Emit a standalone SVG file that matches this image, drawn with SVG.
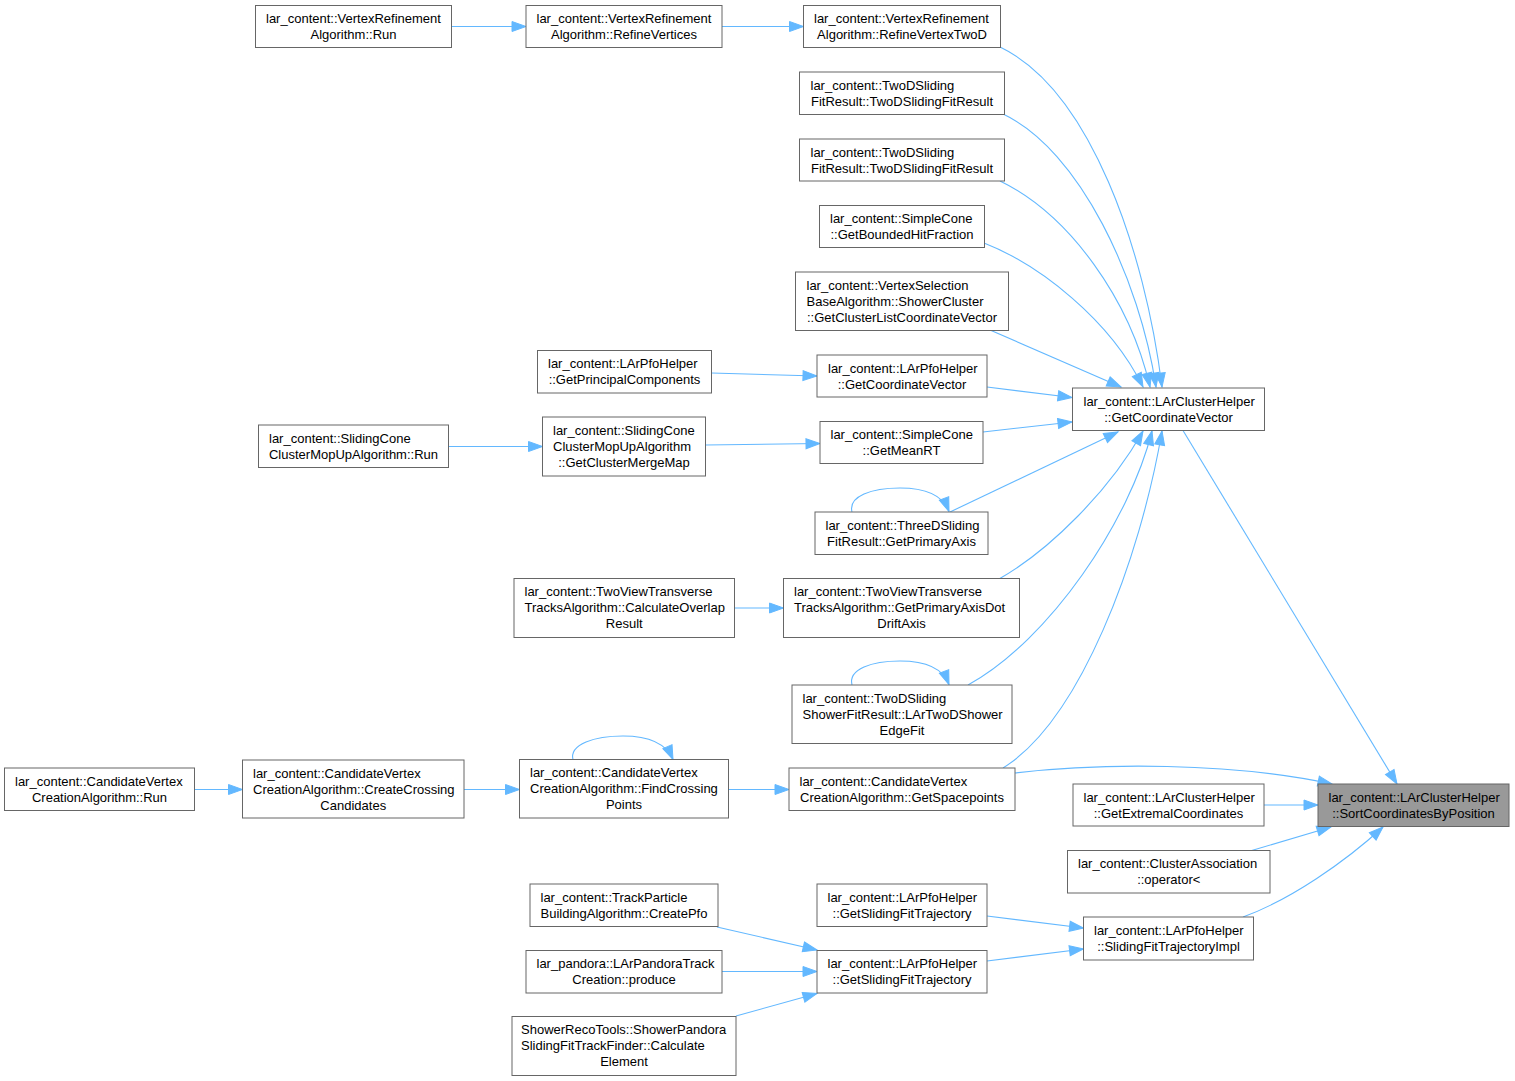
<svg xmlns="http://www.w3.org/2000/svg" width="1515" height="1081" viewBox="0 0 1515 1081">
<style>
.node rect{fill:#ffffff;stroke:#666666;stroke-width:1}
.node.hl rect{fill:#999999}
text{font-family:"Liberation Sans",Arial,sans-serif;font-size:13px;fill:#000000}
.s{text-anchor:start}
.m{text-anchor:middle}
.edges path{fill:none;stroke:#63b8ff;stroke-width:1.1;marker-end:url(#ah)}
</style>
<defs>
<marker id="ah" markerUnits="userSpaceOnUse" markerWidth="14" markerHeight="10" refX="14" refY="5" orient="auto" overflow="visible">
<path d="M0,0L14,5L0,10z" fill="#63b8ff" stroke="#63b8ff" stroke-width="1"/>
</marker>
</defs>
<rect width="1515" height="1081" fill="#ffffff"/>
<g id="edges" class="edges">
<path d="M451.5,26.5 L526,26.5"/>
<path d="M722,26.5 L803.5,26.5"/>
<path d="M1000,47 C1090,90 1145,250 1162,387"/>
<path d="M1003,114 C1080,150 1140,280 1156,387"/>
<path d="M1000,181 C1070,215 1130,300 1150,387"/>
<path d="M984,243 C1040,265 1110,320 1143,387"/>
<path d="M990,330 L1121,387"/>
<path d="M711.5,373 L817,376"/>
<path d="M987,387 L1072,397.5"/>
<path d="M983,432 L1072,422"/>
<path d="M448.5,446.5 L542.5,446.5"/>
<path d="M705.5,445 L820,443.5"/>
<path d="M852,512 C848,496 872,488 900,488 C922,488 942,493 949,511.5"/>
<path d="M950,512 L1118,432"/>
<path d="M734.5,608 L783.5,608"/>
<path d="M999,579 C1050,550 1110,490 1143,431"/>
<path d="M852,685 C848,669 872,661 900,661 C922,661 942,666 949,684.5"/>
<path d="M968,685 C1050,640 1130,520 1152,431"/>
<path d="M1003,768 C1080,720 1140,560 1162,431"/>
<path d="M194.5,789.5 L242.5,789.5"/>
<path d="M464,789.5 L519.5,789.5"/>
<path d="M573,760 C569,744 595,736 623,736 C645,736 665,741 673,759.5"/>
<path d="M728.5,789.5 L789,789.5"/>
<path d="M1015,773 C1100,763 1230,762 1332,784"/>
<path d="M1183,430.5 L1397,784"/>
<path d="M1264,805 L1318,805"/>
<path d="M1250,851 L1331,827"/>
<path d="M1243,917 C1290,900 1345,862 1383,827"/>
<path d="M987,916 L1083.5,928"/>
<path d="M987,961 L1083.5,949"/>
<path d="M717,927 L817,950"/>
<path d="M722,971.5 L817,971.5"/>
<path d="M736,1016 L817,993.5"/>
</g>
<g id="n1" class="node"><rect x="255.5" y="5.5" width="196" height="42"/><text class="s" x="266" y="22.5">lar_content::VertexRefinement</text><text class="m" x="353.5" y="38.5">Algorithm::Run</text></g>
<g id="n2" class="node"><rect x="526" y="5.5" width="196" height="42"/><text class="s" x="536.5" y="22.5">lar_content::VertexRefinement</text><text class="m" x="624" y="38.5">Algorithm::RefineVertices</text></g>
<g id="n3" class="node"><rect x="803.5" y="5.5" width="197" height="42"/><text class="s" x="814" y="22.5">lar_content::VertexRefinement</text><text class="m" x="902" y="38.5">Algorithm::RefineVertexTwoD</text></g>
<g id="n4" class="node"><rect x="799.5" y="72" width="205" height="42.5"/><text class="s" x="810.5" y="89.5">lar_content::TwoDSliding</text><text class="m" x="902" y="105.5">FitResult::TwoDSlidingFitResult</text></g>
<g id="n5" class="node"><rect x="799.5" y="139" width="205" height="42"/><text class="s" x="810.5" y="156.5">lar_content::TwoDSliding</text><text class="m" x="902" y="172.5">FitResult::TwoDSlidingFitResult</text></g>
<g id="n6" class="node"><rect x="819.5" y="205.5" width="165" height="42"/><text class="s" x="830" y="222.5">lar_content::SimpleCone</text><text class="m" x="902" y="238.5">::GetBoundedHitFraction</text></g>
<g id="n7" class="node"><rect x="795.5" y="272" width="213" height="58.5"/><text class="s" x="806.5" y="289.5">lar_content::VertexSelection</text><text class="s" x="806.5" y="305.5">BaseAlgorithm::ShowerCluster</text><text class="m" x="902" y="321.5">::GetClusterListCoordinateVector</text></g>
<g id="n8" class="node"><rect x="537.5" y="350.5" width="174" height="42.5"/><text class="s" x="548" y="368">lar_content::LArPfoHelper</text><text class="m" x="624.5" y="384">::GetPrincipalComponents</text></g>
<g id="n9" class="node"><rect x="817" y="355" width="170" height="42"/><text class="s" x="828" y="372.5">lar_content::LArPfoHelper</text><text class="m" x="902" y="388.5">::GetCoordinateVector</text></g>
<g id="n10" class="node"><rect x="1072.5" y="388" width="192" height="42.5"/><text class="s" x="1083.5" y="405.5">lar_content::LArClusterHelper</text><text class="m" x="1168.5" y="421.5">::GetCoordinateVector</text></g>
<g id="n11" class="node"><rect x="258.5" y="425" width="190" height="42.5"/><text class="s" x="269" y="442.5">lar_content::SlidingCone</text><text class="m" x="353.5" y="458.5">ClusterMopUpAlgorithm::Run</text></g>
<g id="n12" class="node"><rect x="542.5" y="417" width="163" height="59"/><text class="s" x="553" y="434.5">lar_content::SlidingCone</text><text class="s" x="553" y="450.5">ClusterMopUpAlgorithm</text><text class="m" x="624" y="466.5">::GetClusterMergeMap</text></g>
<g id="n13" class="node"><rect x="820" y="421.5" width="163" height="42"/><text class="s" x="830.5" y="439">lar_content::SimpleCone</text><text class="m" x="901.5" y="455">::GetMeanRT</text></g>
<g id="n14" class="node"><rect x="815" y="512" width="173" height="42.5"/><text class="s" x="825.5" y="529.5">lar_content::ThreeDSliding</text><text class="m" x="901.5" y="545.5">FitResult::GetPrimaryAxis</text></g>
<g id="n15" class="node"><rect x="514" y="578.5" width="220.5" height="59"/><text class="s" x="524.5" y="596">lar_content::TwoViewTransverse</text><text class="s" x="524.5" y="612">TracksAlgorithm::CalculateOverlap</text><text class="m" x="624.25" y="628">Result</text></g>
<g id="n16" class="node"><rect x="783.5" y="578.5" width="236" height="59"/><text class="s" x="794" y="596">lar_content::TwoViewTransverse</text><text class="s" x="794" y="612">TracksAlgorithm::GetPrimaryAxisDot</text><text class="m" x="901.5" y="628">DriftAxis</text></g>
<g id="n17" class="node"><rect x="792" y="685" width="220" height="58.5"/><text class="s" x="802.5" y="702.5">lar_content::TwoDSliding</text><text class="s" x="802.5" y="718.5">ShowerFitResult::LArTwoDShower</text><text class="m" x="902" y="734.5">EdgeFit</text></g>
<g id="n18" class="node"><rect x="4.5" y="768" width="190" height="42.5"/><text class="s" x="15" y="785.5">lar_content::CandidateVertex</text><text class="m" x="99.5" y="801.5">CreationAlgorithm::Run</text></g>
<g id="n19" class="node"><rect x="242.5" y="760" width="221.5" height="58"/><text class="s" x="253" y="777.5">lar_content::CandidateVertex</text><text class="s" x="253" y="793.5">CreationAlgorithm::CreateCrossing</text><text class="m" x="353.25" y="809.5">Candidates</text></g>
<g id="n20" class="node"><rect x="519.5" y="759.5" width="209" height="58.5"/><text class="s" x="530" y="777">lar_content::CandidateVertex</text><text class="s" x="530" y="793">CreationAlgorithm::FindCrossing</text><text class="m" x="624" y="809">Points</text></g>
<g id="n21" class="node"><rect x="789" y="768" width="226" height="42.5"/><text class="s" x="799.5" y="785.5">lar_content::CandidateVertex</text><text class="m" x="902" y="801.5">CreationAlgorithm::GetSpacepoints</text></g>
<g id="n22" class="node hl"><rect x="1318" y="784" width="191" height="42.5"/><text class="s" x="1328.5" y="801.5">lar_content::LArClusterHelper</text><text class="m" x="1413.5" y="817.5">::SortCoordinatesByPosition</text></g>
<g id="n23" class="node"><rect x="1073" y="784" width="191" height="42"/><text class="s" x="1083.5" y="801.5">lar_content::LArClusterHelper</text><text class="m" x="1168.5" y="817.5">::GetExtremalCoordinates</text></g>
<g id="n24" class="node"><rect x="1067.5" y="850.5" width="202.5" height="42.5"/><text class="s" x="1078" y="868">lar_content::ClusterAssociation</text><text class="m" x="1168.75" y="884">::operator&lt;</text></g>
<g id="n25" class="node"><rect x="1083.5" y="917" width="170" height="43"/><text class="s" x="1094" y="934.5">lar_content::LArPfoHelper</text><text class="m" x="1168.5" y="950.5">::SlidingFitTrajectoryImpl</text></g>
<g id="n26" class="node"><rect x="817" y="884" width="170" height="42.5"/><text class="s" x="827.5" y="901.5">lar_content::LArPfoHelper</text><text class="m" x="902" y="917.5">::GetSlidingFitTrajectory</text></g>
<g id="n27" class="node"><rect x="817" y="950.5" width="170" height="42.5"/><text class="s" x="827.5" y="968">lar_content::LArPfoHelper</text><text class="m" x="902" y="984">::GetSlidingFitTrajectory</text></g>
<g id="n28" class="node"><rect x="530" y="884" width="188" height="42.5"/><text class="s" x="540.5" y="901.5">lar_content::TrackParticle</text><text class="m" x="624" y="917.5">BuildingAlgorithm::CreatePfo</text></g>
<g id="n29" class="node"><rect x="526" y="950.5" width="196" height="42.5"/><text class="s" x="536.5" y="968">lar_pandora::LArPandoraTrack</text><text class="m" x="624" y="984">Creation::produce</text></g>
<g id="n30" class="node"><rect x="512" y="1016.5" width="224" height="59"/><text class="s" x="521" y="1034">ShowerRecoTools::ShowerPandora</text><text class="s" x="521" y="1050">SlidingFitTrackFinder::Calculate</text><text class="m" x="624" y="1066">Element</text></g>
</svg>
